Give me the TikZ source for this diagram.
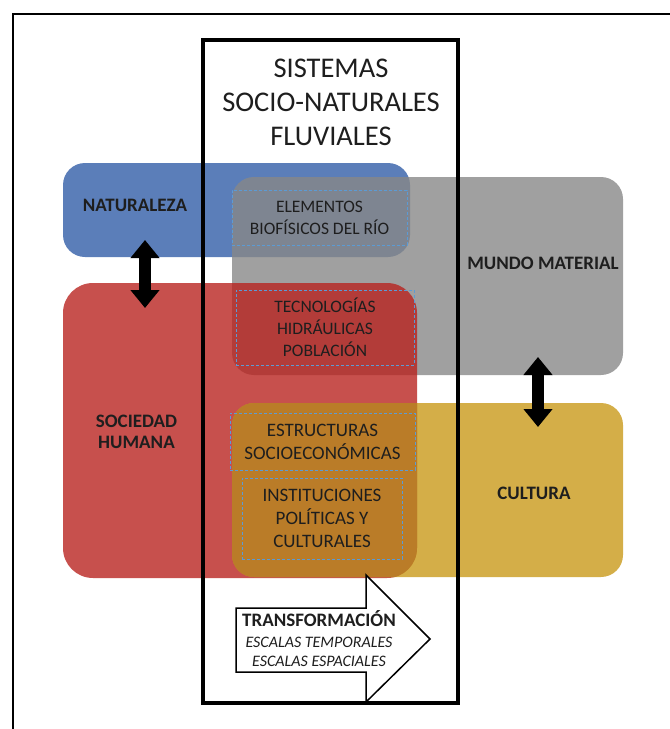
\documentclass[tikz,border=0pt]{standalone}
\usepackage{fontspec}
\setmainfont{Carlito}
\usetikzlibrary{arrows.meta}

\definecolor{naturaC}{RGB}{50,94,168}
\definecolor{materialC}{RGB}{136,136,136}
\definecolor{sociedadC}{RGB}{185,36,32}
\definecolor{culturaC}{RGB}{201,154,26}
\definecolor{mezclaC}{RGB}{186,124,40}
\definecolor{dashC}{RGB}{91,155,213}
\definecolor{inkC}{RGB}{30,30,30}

\tikzset{
  region/.style={rounded corners=22pt, fill opacity=0.8},
  element/.style={draw=dashC, dash pattern=on 3pt off 2pt, line width=0.7pt,
    align=center, text=inkC, font=\fontsize{17.5}{22}\selectfont},
  bigelement/.style={element, font=\fontsize{19}{23}\selectfont},
  blbl/.style={align=center, text=inkC, font=\fontsize{19}{21}\selectfont\bfseries},
  dblarrow/.style={line width=12pt,
    {Triangle[width=28pt,length=18pt]}-{Triangle[width=28pt,length=18pt]}},
}

\begin{document}
\begin{tikzpicture}[x=1pt,y=-1pt]
\useasboundingbox (0,0) rectangle (670,729);
\draw[line width=2pt] (670,14) -- (13,14) -- (13,729);
% the four domains
\fill[region, fill=naturaC] (63,163) rectangle (410,257);
\fill[region, fill=materialC] (232,177) rectangle (623,375);
\fill[region, fill=sociedadC, rounded corners=30pt] (63,283) rectangle (417,578);
\fill[region, fill=culturaC] (232,403) rectangle (623,577);
\begin{scope}
  \clip[rounded corners=30pt] (63,283) rectangle (417,578);
  \fill[rounded corners=22pt, fill=mezclaC] (232,403) rectangle (623,577);
\end{scope}
% elements of the system
\node[element, minimum width=175pt, minimum height=55pt] (elementos) at (319.5,217.5) {ELEMENTOS\\BIOFÍSICOS DEL RÍO};
\node[element, minimum width=178pt, minimum height=75pt] (tecnologias) at (325,327.5) {TECNOLOGÍAS\\HIDRÁULICAS\\POBLACIÓN};
\node[bigelement, minimum width=185pt, minimum height=57pt] (estructuras) at (322.5,441.5) {ESTRUCTURAS\\SOCIOECONÓMICAS};
\node[bigelement, minimum width=160pt, minimum height=81pt] (instituciones) at (322,518.5) {INSTITUCIONES\\POLÍTICAS Y\\CULTURALES};
% domain labels
\node[blbl] (naturaleza) at (135,205) {NATURALEZA};
\node[blbl] (sociedad) at (136.5,432) {SOCIEDAD\\HUMANA};
\node[blbl] (mundo) at (543,263) {MUNDO MATERIAL};
\node[blbl] (cultura) at (534,493) {CULTURA};
\coordinate (natA) at (145,240);
\coordinate (socA) at (145,308);
\coordinate (matA) at (538,357);
\coordinate (culA) at (538,427);
\draw[dblarrow] (natA) -- (socA);
\draw[dblarrow] (matA) -- (culA);
% central frame
\node[draw, line width=4pt, minimum width=255pt, minimum height=663pt] (sistema) at (330.5,371.5) {};
\node[align=center, text=inkC, font=\fontsize{28.5}{34}\selectfont] (titulo) at (331,102) {SISTEMAS\\SOCIO-NATURALES\\FLUVIALES};
% transformation arrow
\draw[line width=1.5pt, fill=white, line join=miter] (236,608) -- (366,608) -- (366,575) -- (430,639)
  -- (366,702) -- (366,672) -- (236,672) -- cycle;
\node[text=inkC, font=\fontsize{19}{20}\selectfont\bfseries] (transf) at (319,619) {TRANSFORMACIÓN};
\node[align=center, text=inkC, font=\fontsize{16}{19}\selectfont\itshape] (escalas) at (319,651.5) {ESCALAS TEMPORALES\\ESCALAS ESPACIALES};
\end{tikzpicture}
\end{document}
